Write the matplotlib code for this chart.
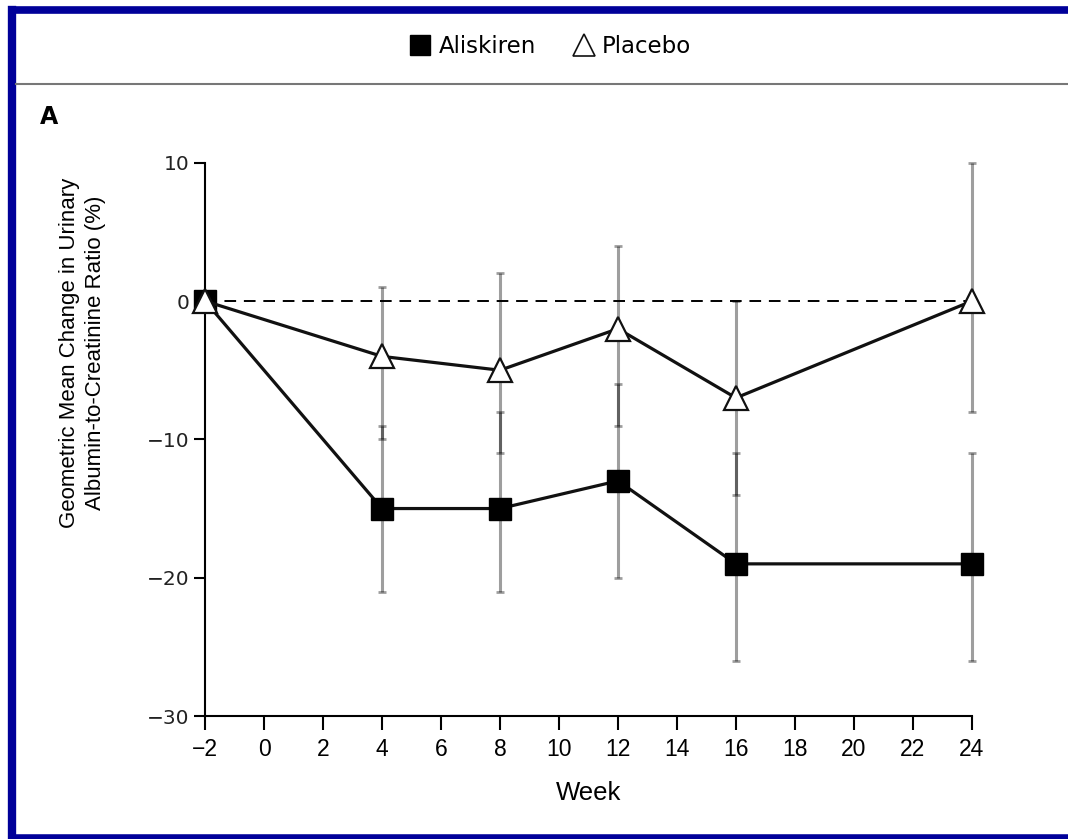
import matplotlib.pyplot as plt
import matplotlib.lines as mlines
import numpy as np

# data
weeks = [-2, 4, 8, 12, 16, 24]
aliskiren = [0, -15, -15, -13, -19, -19]
aliskiren_lo = [0, -21, -21, -20, -26, -26]
aliskiren_hi = [0, -9, -8, -6, -11, -11]
placebo = [0, -4, -5, -2, -7, 0]
placebo_lo = [0, -10, -11, -9, -14, -8]
placebo_hi = [0, 1, 2, 4, 0, 10]

xticks = list(range(-2, 25, 2))
yticks = [-30, -20, -10, 0, 10]

fig = plt.figure(figsize=(10.68, 8.39), dpi=100)
ax = fig.add_axes([0.192, 0.1466, 0.718, 0.6594])

al = np.array(aliskiren)
pl = np.array(placebo)
al_err = [al - np.array(aliskiren_lo), np.array(aliskiren_hi) - al]
pl_err = [pl - np.array(placebo_lo), np.array(placebo_hi) - pl]

# error bars (semi transparent so the overlap looks darker)
for y, err in [(al, al_err), (pl, pl_err)]:
    eb = ax.errorbar(weeks[1:], y[1:], yerr=[err[0][1:], err[1][1:]], fmt='none',
                     ecolor='black', alpha=0.38, elinewidth=2.2, capsize=3,
                     capthick=2, zorder=2)
    for art in eb.lines[1] + eb.lines[2]:
        art.set_clip_on(False)

ax.axhline(0, color='black', lw=1.4, ls=(0, (6, 4)), zorder=1)

ax.plot(weeks, placebo, color='#111111', lw=2.3, marker='^', ms=17,
        mfc='white', mec='#111111', mew=1.6, zorder=4, clip_on=False)
ax.plot(weeks, aliskiren, color='#111111', lw=2.3, marker='s', ms=15.5,
        mfc='black', mec='black', zorder=3, clip_on=False)

ax.set_xlim(-2, 24)
ax.set_ylim(-30, 10)
ax.set_xticks(xticks)
ax.set_yticks(yticks)
ax.spines['top'].set_visible(False)
ax.spines['right'].set_visible(False)
ax.spines['left'].set_linewidth(1.5)
ax.spines['bottom'].set_linewidth(1.5)
ax.tick_params(axis='x', length=10, width=1.5, pad=6)
ax.tick_params(axis='y', length=8, width=1.5, pad=3)
for lab in ax.get_xticklabels():
    lab.set_family('Liberation Sans')
    lab.set_fontsize(16.5)
for lab in ax.get_yticklabels():
    lab.set_family('DejaVu Sans')
    lab.set_fontsize(14.5)
    lab.set_color('#222222')

ax.set_xlabel('Week', family='Liberation Sans', fontsize=18.5, labelpad=14)
fig.text(0.077, 0.58, 'Geometric Mean Change in Urinary\nAlbumin-to-Creatinine Ratio (%)',
         family='Liberation Sans', fontsize=16, rotation=90, ha='center', va='center',
         multialignment='center', linespacing=1.3)

# panel label
fig.text(0.037, 0.852, 'A', fontsize=17, fontweight='bold', family='DejaVu Sans')

# legend at the top
h1 = mlines.Line2D([], [], ls='none', marker='s', ms=15, mfc='black', mec='black')
h2 = mlines.Line2D([], [], ls='none', marker='^', ms=16, mfc='white', mec='#111111', mew=1.2)
fig.legend([h1, h2], ['Aliskiren', 'Placebo'], loc='center', bbox_to_anchor=(0.515, 0.944),
           ncol=2, frameon=False, prop={'family': 'DejaVu Sans', 'size': 16.5},
           handletextpad=0.3, columnspacing=1.6, handlelength=1.0)

# frame: navy border on top, left, bottom plus grey separator line
navy = '#000099'
fig.add_artist(mlines.Line2D([0.011, 1.0], [0.9875, 0.9875], color=navy, lw=5.5, transform=fig.transFigure))
fig.add_artist(mlines.Line2D([0.011, 0.011], [0.0025, 0.9875], color=navy, lw=6, transform=fig.transFigure))
fig.add_artist(mlines.Line2D([0.011, 1.0], [0.0025, 0.0025], color=navy, lw=4, transform=fig.transFigure))
fig.add_artist(mlines.Line2D([0.015, 1.0], [0.9, 0.9], color='#777777', lw=1.5, transform=fig.transFigure))

fig.savefig('out.png', dpi=100)
plt.close(fig)
